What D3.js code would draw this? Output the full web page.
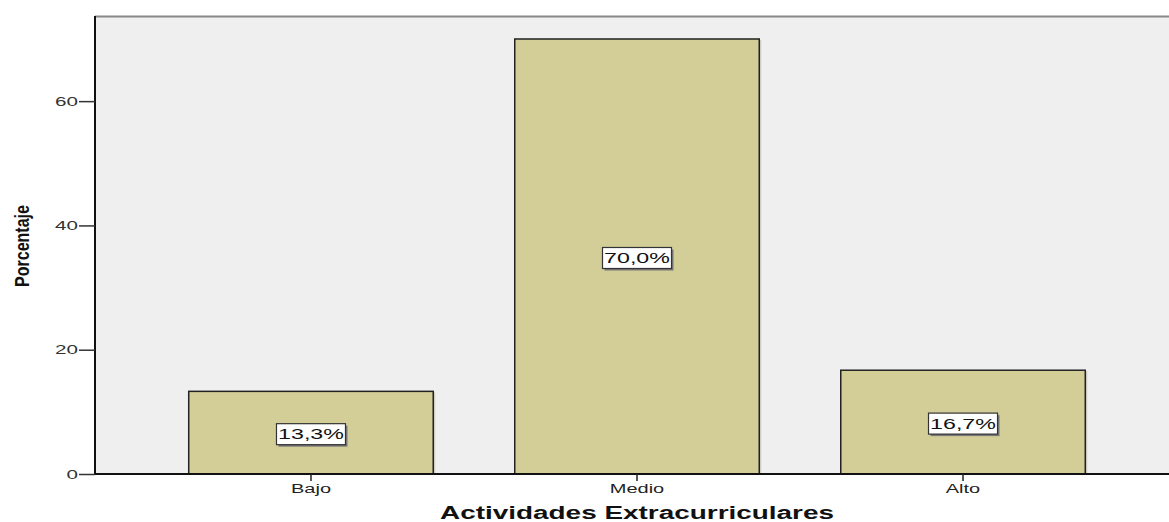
<!DOCTYPE html>
<html><head><meta charset="utf-8">
<script src="https://cdn.jsdelivr.net/npm/d3@7"></script>
<style>body{margin:0;background:#fff;}svg{display:block;}</style>
</head><body>
<svg id="chart" width="1169" height="522"></svg>
<script>
const categories = ["Bajo", "Medio", "Alto"];
const values = [13.3, 70.0, 16.7];
const valueLabels = ["13,3%", "70,0%", "16,7%"];
const yTicks = [0, 20, 40, 60];
const xTitle = "Actividades Extracurriculares";
const yTitle = "Porcentaje";

(function () {
const svg = d3.select("#chart");
const pL = 95, pR = 1179, pT = 16, pB = 474;
const FONT = "Liberation Sans, Arial, sans-serif";

function stretch(sel, f) {
  sel.each(function () {
    const w = this.getComputedTextLength();
    d3.select(this).attr("textLength", w * f).attr("lengthAdjust", "spacingAndGlyphs");
  });
}

const x = d3.scaleBand().domain(categories).range([pL, pR]).paddingInner(0.25).paddingOuter(0.2875);
const y = d3.scaleLinear().domain([0, 73.7]).range([pB, pT]);

svg.append("rect").attr("x", pL).attr("y", pT).attr("width", 1169 - pL).attr("height", pB - pT).attr("fill", "#efefef");
svg.append("line").attr("x1", pL).attr("x2", 1169).attr("y1", pT + 0.5).attr("y2", pT + 0.5).attr("stroke", "#888").attr("stroke-width", 2);

const bars = svg.append("g");
categories.forEach((c, i) => {
  const bx = x(c), bw = x.bandwidth(), by = y(values[i]);
  bars.append("rect").attr("x", bx + 2).attr("y", by + 1).attr("width", bw).attr("height", pB - by)
    .attr("fill", "#b5b5b0").attr("opacity", 0.6);
  bars.append("rect").attr("x", bx).attr("y", by).attr("width", bw).attr("height", pB - by)
    .attr("fill", "#d3cd98").attr("stroke", "#222").attr("stroke-width", 1.5);
});

categories.forEach((c, i) => {
  const cx = x(c) + x.bandwidth() / 2;
  const cy = (y(values[i]) + pB) / 2 + 1.5;
  const g = svg.append("g");
  const t = g.append("text").attr("x", cx).attr("y", cy).attr("text-anchor", "middle").attr("dominant-baseline", "central")
    .attr("font-family", FONT).attr("font-size", 14.5).attr("fill", "#111")
    .text(valueLabels[i]);
  stretch(t, 1.6);
  const w = 69, h = 21;
  g.insert("rect", "text").attr("x", cx - w / 2 + 2).attr("y", cy - h / 2 + 2).attr("width", w).attr("height", h).attr("fill", "#777");
  g.insert("rect", "text").attr("x", cx - w / 2).attr("y", cy - h / 2).attr("width", w).attr("height", h)
    .attr("fill", "#fff").attr("stroke", "#333").attr("stroke-width", 1.2);
});

const yAxis = d3.axisLeft(y).tickValues(yTicks).tickSize(16).tickPadding(1).tickFormat(d3.format("d"));
const gy = svg.append("g").attr("transform", `translate(${pL},0)`).call(yAxis);
gy.select(".domain").attr("stroke", "#111").attr("stroke-width", 2).attr("d", `M0,${pT}V${pB}`);
gy.selectAll(".tick line").attr("stroke", "#333").attr("stroke-width", 1.5);
gy.selectAll(".tick text").attr("font-family", FONT).attr("font-size", 12.5).attr("fill", "#333");
stretch(gy.selectAll(".tick text"), 1.65);

const xAxis = d3.axisBottom(x).tickSize(7).tickPadding(3);
const gx = svg.append("g").attr("transform", `translate(0,${pB})`).call(xAxis);
gx.select(".domain").attr("stroke", "#111").attr("stroke-width", 2).attr("d", `M${pL},0H1169`);
gx.selectAll(".tick line").attr("stroke", "#222").attr("stroke-width", 1.5);
gx.selectAll(".tick text").attr("font-family", FONT).attr("font-size", 12.5).attr("fill", "#222");
stretch(gx.selectAll(".tick text"), 1.6);

const xt = svg.append("text").attr("x", x("Medio") + x.bandwidth() / 2).attr("y", 519).attr("text-anchor", "middle")
  .attr("font-family", FONT).attr("font-weight", "bold").attr("font-size", 17.5)
  .attr("fill", "#111").text(xTitle);
xt.attr("textLength", 394).attr("lengthAdjust", "spacingAndGlyphs");

svg.append("text").attr("transform", `translate(29,246) rotate(-90)`).attr("text-anchor", "middle")
  .attr("font-family", FONT).attr("font-weight", "bold").attr("font-size", 21)
  .attr("fill", "#111").attr("textLength", 82).attr("lengthAdjust", "spacingAndGlyphs").text(yTitle);
})();
</script>
</body></html>
